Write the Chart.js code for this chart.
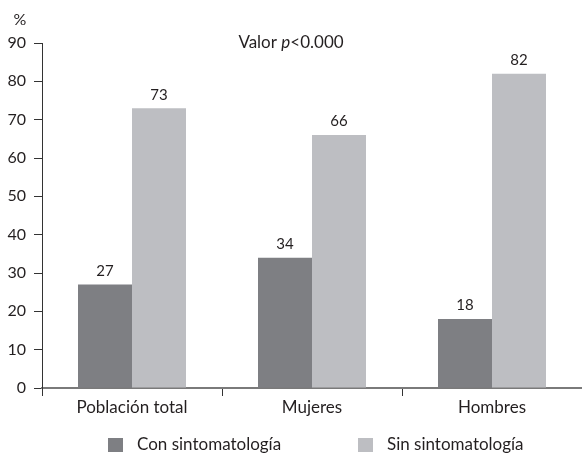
<!DOCTYPE html>
<html><head><meta charset="utf-8">
<script src="https://cdn.jsdelivr.net/npm/chart.js@4"></script>
<style>html,body{margin:0;padding:0;background:#fff}#wrap{width:582px;height:453px}</style>
</head><body><div id="wrap"><canvas id="c" width="582" height="453"></canvas></div>
<script>
const categories = ['Población total', 'Mujeres', 'Hombres'];
const conSintomatologia = [27, 34, 18];
const sinSintomatologia = [73, 66, 82];
const seriesNames = ['Con sintomatología', 'Sin sintomatología'];
const yMin = 0, yMax = 90, yStep = 10;
const yUnit = '%';
const titleParts = [['Valor ', 'normal'], ['p', 'italic'], ['<0.000', 'normal']];

const FONT = 'Lato, "Open Sans", sans-serif';
const TEXT = '#231f20';
const colors = ['#7e7f83', '#bdbec2'];

const extras = {
  id: 'extras',
  afterDatasetsDraw(chart) {
    const ctx = chart.ctx;
    ctx.save();
    ctx.fillStyle = TEXT;
    ctx.font = '15px ' + FONT;
    ctx.textAlign = 'center';
    ctx.textBaseline = 'bottom';
    chart.data.datasets.forEach((ds, i) => {
      chart.getDatasetMeta(i).data.forEach((el, j) => {
        ctx.fillText(String(ds.data[j]), el.x, el.y - 6);
      });
    });
    ctx.restore();
  },
  afterDraw(chart) {
    const ctx = chart.ctx;
    const ca = chart.chartArea;
    ctx.save();
    ctx.fillStyle = TEXT;
    ctx.textBaseline = 'middle';
    // unit label
    ctx.font = '16px ' + FONT;
    ctx.textAlign = 'center';
    ctx.fillText(yUnit, 20, 20);
    // title with italic p
    ctx.textAlign = 'left';
    let total = 0;
    titleParts.forEach(([t, s]) => { ctx.font = s + ' 17px ' + FONT; total += ctx.measureText(t).width; });
    let x = chart.width / 2 - total / 2;
    titleParts.forEach(([t, s]) => {
      ctx.font = s + ' 17px ' + FONT;
      ctx.fillText(t, x, ca.top);
      x += ctx.measureText(t).width;
    });
    // legend
    ctx.font = '17px ' + FONT;
    const legendX = [108, 358];
    const ly = 445;
    chart.data.datasets.forEach((ds, i) => {
      ctx.fillStyle = ds.backgroundColor;
      ctx.fillRect(legendX[i], ly - 7, 15, 14);
      ctx.fillStyle = TEXT;
      ctx.fillText(ds.label, legendX[i] + 29, ly);
    });
    ctx.restore();
  }
};

new Chart(document.getElementById('c'), {
  type: 'bar',
  data: {
    labels: categories,
    datasets: [
      { label: seriesNames[0], data: conSintomatologia, backgroundColor: colors[0], borderWidth: 0 },
      { label: seriesNames[1], data: sinSintomatologia, backgroundColor: colors[1], borderWidth: 0 }
    ]
  },
  options: {
    responsive: false,
    devicePixelRatio: 1,
    animation: false,
    layout: { padding: { top: 43, left: 0, right: 0, bottom: 0 } },
    datasets: { bar: { barPercentage: 1, categoryPercentage: 0.6 } },
    plugins: { legend: { display: false }, title: { display: false }, tooltip: { enabled: false } },
    scales: {
      x: {
        grid: { display: true, drawOnChartArea: false, offset: true, tickLength: 8, color: '#333', lineWidth: 1 },
        border: { display: true, color: '#7a7a7a', width: 2 },
        ticks: { color: TEXT, font: { family: FONT, size: 17 }, padding: 1 },
        afterFit(s) { s.height = 65; }
      },
      y: {
        min: yMin, max: yMax,
        grid: { display: true, drawOnChartArea: false, tickLength: 8, color: '#333', lineWidth: 1 },
        border: { display: true, color: '#333', width: 1 },
        ticks: { stepSize: yStep, color: TEXT, font: { family: FONT, size: 16 }, padding: 8 },
        afterFit(s) { s.width = 42; }
      }
    }
  },
  plugins: [extras]
});
</script></body></html>
